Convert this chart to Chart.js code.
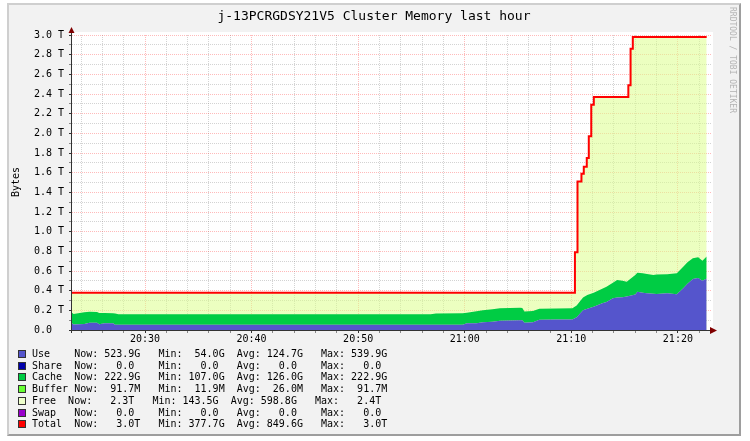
<!DOCTYPE html>
<html>
<head>
<meta charset="utf-8">
<script src="https://cdn.jsdelivr.net/npm/chart.js@4.4.1/dist/chart.umd.min.js"></script>
<style>
  body { margin: 0; background: #fff; font-family: 'DejaVu Sans Mono', monospace; }
  #wrap { position: relative; width: 750px; height: 441px; overflow: hidden; }
  #frame { position: absolute; left: 7px; top: 3px; width: 734px; height: 433px; box-sizing: border-box;
           background: #f2f2f2; border: 2px solid; border-color: #cfcfcf #9e9e9e #9e9e9e #cfcfcf; }
  canvas { position: absolute; left: 0; top: 0; }
  .t { position: absolute; white-space: pre; color: #000; font-size: 10px; line-height: 12px; }
  #title { left: 0; width: 748px; top: 8px; text-align: center; font-size: 13px; line-height: 15px; }
  #ylab { left: -14px; top: 176px; width: 60px; text-align: center; transform: rotate(-90deg); }
  #mark { left: 677px; top: 55px; width: 110px; text-align: center; font-size: 8px; line-height: 10px;
          color: #b4b4b4; transform: rotate(90deg); }
  .sq { position: absolute; left: 18px; width: 8px; height: 8px; box-sizing: border-box; border: 1px solid #333; }
</style>
</head>
<body>
<div id="wrap">
  <div id="frame"></div>
  <canvas id="c" width="750" height="441"></canvas>
  <div class="t" id="title">j-13PCRGDSY21V5 Cluster Memory last hour</div>
  <div class="t" id="ylab">Bytes</div>
  <div class="t" id="mark">RRDTOOL / TOBI OETIKER</div>
  <div id="legend"></div>
</div>
<script>
// time in minutes after 20:00, values in TB
const memTimes = [23.15, 23.3, 24.3, 24.8, 25.5, 25.7, 26.2, 27.0, 27.2, 27.5,
  30, 35, 40, 45, 50, 55, 56.8, 57.3, 59.8, 60.2, 61.1, 61.7, 62.6, 63.3,
  65.2, 65.4, 65.6, 66.4, 67.0, 68.6, 70.1, 70.5, 71.1, 71.5, 72.1, 72.9,
  73.3, 73.9, 74.3, 74.8, 75.2, 76.0, 76.2, 76.7, 77.1, 77.7, 78.0, 79.0,
  79.9, 80.5, 80.9, 81.4, 81.9, 82.3, 82.7];
const useVals = [0.068, 0.056, 0.062, 0.075, 0.075, 0.058, 0.068, 0.068, 0.054, 0.054,
  0.054, 0.054, 0.054, 0.054, 0.054, 0.054, 0.054, 0.054, 0.054, 0.068, 0.068, 0.080, 0.085, 0.095,
  0.100, 0.100, 0.075, 0.080, 0.105, 0.108, 0.108, 0.129, 0.200, 0.215, 0.237, 0.271,
  0.285, 0.322, 0.330, 0.332, 0.340, 0.360, 0.390, 0.380, 0.373, 0.368, 0.366, 0.373,
  0.363, 0.424, 0.470, 0.519, 0.530, 0.500, 0.524];
const cacheVals = [0.108, 0.106, 0.118, 0.111, 0.109, 0.114, 0.104, 0.102, 0.114, 0.107,
  0.107, 0.107, 0.107, 0.107, 0.107, 0.107, 0.107, 0.115, 0.116, 0.108, 0.122, 0.120, 0.125, 0.127,
  0.126, 0.124, 0.113, 0.113, 0.110, 0.110, 0.112, 0.121, 0.130, 0.141, 0.143, 0.149,
  0.155, 0.158, 0.179, 0.168, 0.150, 0.200, 0.193, 0.196, 0.197, 0.192, 0.199, 0.193,
  0.213, 0.220, 0.220, 0.210, 0.210, 0.205, 0.223];
const totalTimes = [23.15, 70.34, 70.58, 70.95, 71.17, 71.45, 71.64, 71.87, 72.11, 75.35, 75.56, 75.77, 82.7];
const totalVals = [0.378, 0.79, 1.51, 1.59, 1.66, 1.75, 1.97, 2.29, 2.37, 2.49, 2.86, 2.98, 2.98];

const legendLabels = ['Use    ', 'Share  ', 'Cache  ', 'Buffer ', 'Free  ', 'Swap   ', 'Total  '];
const legendNow = ['523.9G', '0.0 ', '222.9G', '91.7M', '2.3T', '0.0 ', '3.0T'];
const legendMin = ['54.0G', '0.0 ', '107.0G', '11.9M', '143.5G', '0.0 ', '377.7G'];
const legendAvg = ['124.7G', '0.0 ', '126.0G', '26.0M', '598.8G', '0.0 ', '849.6G'];
const legendMax = ['539.9G', '0.0 ', '222.9G', '91.7M', '2.4T', '0.0 ', '3.0T'];
const legendColors = ['#5555cc', '#0000aa', '#00cc44', '#66ff33', '#eeffcc', '#9900cc', '#ff0000'];

// legend rows
const legend = document.getElementById('legend');
legendLabels.forEach((lab, i) => {
  const cy = 354 + i * 11.72;
  const row = document.createElement('div');
  row.className = 't';
  row.style.left = '32px';
  row.style.top = (cy - 6) + 'px';
  row.textContent = lab + 'Now:' + legendNow[i].padStart(7) + '   Min:' + legendMin[i].padStart(7) +
    '  Avg:' + legendAvg[i].padStart(7) + '   Max:' + legendMax[i].padStart(7);
  const sq = document.createElement('div');
  sq.className = 'sq';
  sq.style.top = (cy - 4) + 'px';
  sq.style.background = legendColors[i];
  legend.appendChild(sq);
  legend.appendChild(row);
});

const gridColor = 'rgba(128,128,128,0.35)';
const mgridColor = 'rgba(255,40,40,0.32)';
const isMajorX = v => Math.round(v) % 10 === 0;
const isMajorY = v => Math.round(v * 10) % 2 === 0;
const hhmm = v => { const m = Math.round(v); return (20 + Math.floor(m / 60)) + ':' + String(m % 60).padStart(2, '0'); };

const canvasBg = {
  id: 'canvasBg',
  beforeDraw(chart) {
    const { ctx, chartArea: a } = chart;
    ctx.save();
    ctx.fillStyle = '#fff';
    ctx.fillRect(a.left, a.top - 3, a.right - a.left + 1, a.bottom - a.top + 3);
    ctx.restore();
  }
};

const axisArrows = {
  id: 'axisArrows',
  afterDraw(chart) {
    const { ctx, chartArea: a } = chart;
    ctx.save();
    ctx.strokeStyle = '#333';
    ctx.lineWidth = 1;
    ctx.beginPath();
    ctx.moveTo(a.left - 3, a.bottom + 0.5);
    ctx.lineTo(a.right - 1, a.bottom + 0.5);
    ctx.moveTo(a.left - 0.5, a.bottom + 3);
    ctx.lineTo(a.left - 0.5, a.top - 3);
    ctx.stroke();
    ctx.fillStyle = '#800000';
    ctx.beginPath();
    ctx.moveTo(a.right - 2, a.bottom - 3);
    ctx.lineTo(a.right + 5, a.bottom + 0.5);
    ctx.lineTo(a.right - 2, a.bottom + 4);
    ctx.closePath();
    ctx.fill();
    ctx.beginPath();
    ctx.moveTo(a.left - 3.5, a.top - 2);
    ctx.lineTo(a.left - 0.5, a.top - 8);
    ctx.lineTo(a.left + 2.5, a.top - 2);
    ctx.closePath();
    ctx.fill();
    ctx.restore();
  }
};

Chart.defaults.font.family = "'DejaVu Sans Mono', monospace";
Chart.defaults.font.size = 10;
Chart.defaults.color = '#000';

new Chart(document.getElementById('c'), {
  type: 'line',
  data: {
    datasets: [
      {
        label: 'Use',
        data: memTimes.map((t, i) => ({ x: t, y: useVals[i] })),
        stack: 'mem', fill: 'origin', order: 0,
        backgroundColor: '#5555cc', borderColor: 'rgba(0,0,0,0)', borderWidth: 0, pointRadius: 0
      },
      {
        label: 'Cache',
        data: memTimes.map((t, i) => ({ x: t, y: cacheVals[i] })),
        stack: 'mem', fill: '-1', order: 0,
        backgroundColor: '#00cc44', borderColor: 'rgba(0,0,0,0)', borderWidth: 0, pointRadius: 0
      },
      {
        label: 'Total',
        data: totalTimes.map((t, i) => ({ x: t, y: totalVals[i] })),
        stack: 'total', fill: 'origin', order: 1, stepped: true,
        backgroundColor: 'rgba(220,255,140,0.55)', borderColor: '#ff0000', borderWidth: 2, pointRadius: 0
      }
    ]
  },
  options: {
    responsive: false,
    animation: false,
    layout: { padding: { left: 0, top: 35, right: 38, bottom: 91 } },
    plugins: { legend: { display: false }, tooltip: { enabled: false } },
    scales: {
      x: {
        type: 'linear', min: 23.15, max: 83.2,
        afterFit: s => { s.height = 20; },
        ticks: {
          stepSize: 2, includeBounds: false, autoSkip: false, maxRotation: 0, padding: 0,
          callback: v => isMajorX(v) ? hhmm(v) : ''
        },
        grid: {
          color: c => isMajorX(c.tick.value) ? mgridColor : gridColor,
          tickColor: c => isMajorX(c.tick.value) ? '#333' : '#888',
          tickLength: 3
        },
        border: { display: false, dash: [1, 1] }
      },
      y: {
        stacked: true, min: 0, max: 3,
        afterFit: s => { s.width = 72; },
        ticks: {
          stepSize: 0.1, autoSkip: false, padding: 5,
          callback: v => !isMajorY(v) ? '' : (v === 0 ? '0.0  ' : v.toFixed(1) + ' T')
        },
        grid: {
          color: c => isMajorY(c.tick.value) ? mgridColor : gridColor,
          tickColor: c => isMajorY(c.tick.value) ? '#333' : '#888',
          tickLength: 3
        },
        border: { display: false, dash: [1, 1] }
      }
    }
  },
  plugins: [canvasBg, axisArrows]
});
</script>
</body>
</html>
